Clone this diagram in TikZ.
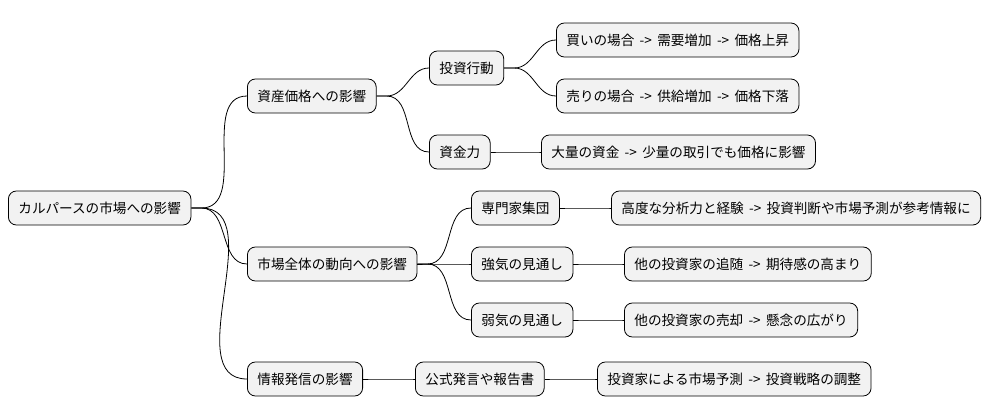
\documentclass[tikz,border=0pt]{standalone}
\usepackage{fontspec}
\newfontfamily\cjk{Noto Sans CJK JP}
\usetikzlibrary{positioning,calc}
\tikzset{
topic_node/.style={draw,fill=black!5,rounded corners=6pt,minimum height=25.5pt,inner xsep=7.5pt,anchor=west,font=\cjk\fontsize{10.2pt}{12pt}\selectfont,line width=0.6pt},
branch_link/.style={line width=0.6pt}
}
\newcommand{\linkto}[2]{\draw[branch_link] (#1.east) -- ++(7.5pt,0) to[out=0,in=180] (#2.west);}
\begin{document}
\begin{tikzpicture}[x=0.75pt,y=-0.75pt]
    \useasboundingbox (0,0) rectangle (1004,415);

    % root and first level
    \node[topic_node] (market_impact) at (8,208) {カルパースの市場への影響};
    \node[topic_node] (asset_price) at (247,96) {資産価格への影響};
    \node[topic_node] (market_trend) at (247,264) {市場全体の動向への影響};
    \node[topic_node] (info_release) at (247,379) {情報発信の影響};

    % second level
    \node[topic_node] (invest_action) at (429,68) {投資行動};
    \node[topic_node] (capital_power) at (429,152) {資金力};
    \node[topic_node] (expert_group) at (471,208) {専門家集団};
    \node[topic_node] (bull_view) at (471,264) {強気の見通し};
    \node[topic_node] (bear_view) at (471,320) {弱気の見通し};
    \node[topic_node] (official_report) at (415,379) {公式発言や報告書};

    % leaves
    \node[topic_node] (buy_case) at (556,40) {買いの場合 \,->\, 需要増加 \,->\, 価格上昇};
    \node[topic_node] (sell_case) at (556,96) {売りの場合 \,->\, 供給増加 \,->\, 価格下落};
    \node[topic_node] (large_fund) at (541,152) {大量の資金 \,->\, 少量の取引でも価格に影響};
    \node[topic_node] (analysis_skill) at (611,208) {高度な分析力と経験 \,->\, 投資判断や市場予測が参考情報に};
    \node[topic_node] (follow_others) at (624,264) {他の投資家の追随 \,->\, 期待感の高まり};
    \node[topic_node] (sell_others) at (624,320) {他の投資家の売却 \,->\, 懸念の広がり};
    \node[topic_node] (forecast) at (597,379) {投資家による市場予測 \,->\, 投資戦略の調整};

    % connectors
    \linkto{market_impact}{asset_price}
    \linkto{market_impact}{market_trend}
    \linkto{market_impact}{info_release}
    \linkto{asset_price}{invest_action}
    \linkto{asset_price}{capital_power}
    \linkto{invest_action}{buy_case}
    \linkto{invest_action}{sell_case}
    \linkto{capital_power}{large_fund}
    \linkto{market_trend}{expert_group}
    \linkto{market_trend}{bull_view}
    \linkto{market_trend}{bear_view}
    \linkto{expert_group}{analysis_skill}
    \linkto{bull_view}{follow_others}
    \linkto{bear_view}{sell_others}
    \linkto{info_release}{official_report}
    \linkto{official_report}{forecast}
\end{tikzpicture}
\end{document}
